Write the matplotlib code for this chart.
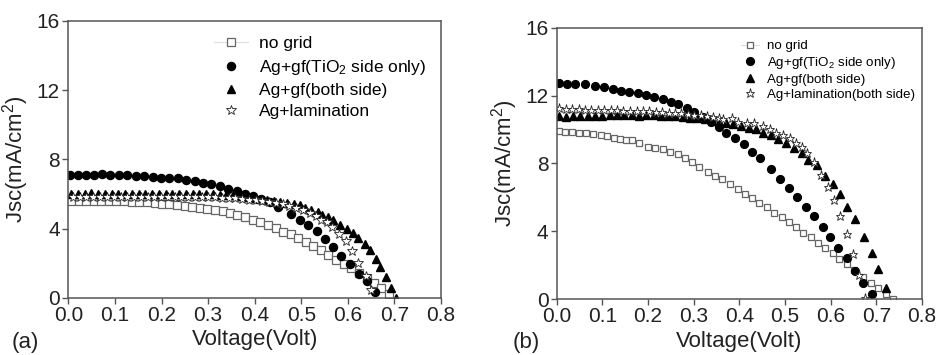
import matplotlib
matplotlib.use("Agg")
from matplotlib import pyplot as plt

plt.rcParams['font.family'] = ['Liberation Sans', 'DejaVu Sans']
plt.rcParams['mathtext.fontset'] = 'custom'
plt.rcParams['mathtext.rm'] = 'Liberation Sans'
plt.rcParams['mathtext.default'] = 'regular'

# ---- panel (a) ----
a_sq_v = [0.006, 0.022, 0.038, 0.055, 0.071, 0.087, 0.103, 0.120, 0.136, 0.152, 0.168, 0.185, 0.201, 0.217, 0.233,
          0.250, 0.266, 0.282, 0.298, 0.315, 0.331, 0.347, 0.363, 0.380, 0.396, 0.412, 0.428, 0.445, 0.461, 0.477,
          0.493, 0.510, 0.526, 0.542, 0.558, 0.575, 0.591, 0.607, 0.623, 0.640, 0.656, 0.672, 0.688]
a_sq_j = [5.62, 5.62, 5.62, 5.62, 5.62, 5.61, 5.61, 5.60, 5.57, 5.55, 5.52, 5.48, 5.45, 5.42, 5.38,
          5.33, 5.28, 5.22, 5.15, 5.08, 5.00, 4.92, 4.82, 4.66, 4.52, 4.37, 4.24, 4.05, 3.84, 3.68,
          3.45, 3.25, 3.00, 2.75, 2.50, 2.22, 1.95, 1.72, 1.44, 1.14, 0.84, 0.56, 0.25]

a_ci_v = [0.004, 0.020, 0.037, 0.055, 0.073, 0.090, 0.109, 0.126, 0.145, 0.163, 0.181, 0.199, 0.217, 0.235, 0.253,
          0.271, 0.289, 0.307, 0.325, 0.343, 0.361, 0.379, 0.397, 0.414, 0.432, 0.450, 0.478, 0.497, 0.514, 0.533,
          0.551, 0.568, 0.585, 0.605, 0.623, 0.640, 0.658]
a_ci_j = [7.13, 7.13, 7.13, 7.12, 7.18, 7.13, 7.13, 7.10, 7.05, 7.03, 7.00, 6.95, 6.93, 6.91, 6.80,
          6.78, 6.66, 6.57, 6.45, 6.32, 6.18, 6.03, 5.89, 5.74, 5.52, 5.28, 4.87, 4.53, 4.24, 3.85,
          3.39, 2.95, 2.45, 1.98, 1.41, 1.00, 0.33]

a_tr_v = [0.006, 0.020, 0.035, 0.049, 0.064, 0.078, 0.093, 0.107, 0.122, 0.136, 0.151, 0.165, 0.180, 0.194, 0.209,
          0.223, 0.238, 0.252, 0.267, 0.281, 0.296, 0.310, 0.325, 0.339, 0.354, 0.368, 0.383, 0.397, 0.412, 0.426,
          0.441, 0.455, 0.470, 0.484, 0.497, 0.509, 0.521, 0.535, 0.545, 0.558, 0.569, 0.584, 0.599, 0.611, 0.622,
          0.636, 0.647, 0.660, 0.670, 0.681, 0.693, 0.704]
a_tr_j = [5.98, 6.02, 6.00, 6.04, 6.00, 6.02, 5.98, 6.03, 6.00, 6.02, 6.00, 6.01, 5.99, 6.03, 6.00,
          6.02, 5.99, 6.02, 6.00, 6.01, 5.99, 6.00, 5.97, 5.95, 5.92, 5.88, 5.84, 5.80, 5.74, 5.68,
          5.62, 5.56, 5.48, 5.42, 5.35, 5.20, 5.07, 4.96, 4.82, 4.66, 4.49, 4.24, 4.01, 3.76, 3.49,
          3.10, 2.76, 2.27, 1.78, 1.21, 0.60, 0.02]

a_st_v = [0.010, 0.025, 0.039, 0.054, 0.068, 0.083, 0.097, 0.112, 0.126, 0.141, 0.155, 0.170, 0.184, 0.199, 0.213,
          0.228, 0.242, 0.257, 0.271, 0.286, 0.300, 0.315, 0.329, 0.344, 0.358, 0.373, 0.387, 0.402, 0.416, 0.431,
          0.445, 0.460, 0.474, 0.489, 0.503, 0.518, 0.532, 0.543, 0.555, 0.566, 0.582, 0.596, 0.609, 0.622, 0.638,
          0.649]
a_st_j = [5.85, 5.86, 5.84, 5.86, 5.85, 5.84, 5.86, 5.85, 5.85, 5.84, 5.86, 5.85, 5.84, 5.85, 5.86,
          5.85, 5.84, 5.85, 5.85, 5.84, 5.85, 5.83, 5.80, 5.78, 5.75, 5.72, 5.68, 5.64, 5.60, 5.55,
          5.48, 5.40, 5.30, 5.20, 5.08, 4.92, 4.72, 4.53, 4.40, 4.10, 3.72, 3.29, 2.71, 2.04, 1.25,
          0.48]

# ---- panel (b) ----
b_sq_v = [0.004, 0.019, 0.034, 0.048, 0.064, 0.080, 0.096, 0.110, 0.125, 0.139, 0.152, 0.165, 0.180, 0.199, 0.216,
          0.232, 0.249, 0.265, 0.280, 0.296, 0.312, 0.331, 0.347, 0.363, 0.380, 0.396, 0.412, 0.428, 0.444, 0.460,
          0.476, 0.493, 0.509, 0.524, 0.540, 0.556, 0.572, 0.588, 0.604, 0.619, 0.635, 0.651, 0.671, 0.688, 0.704,
          0.721, 0.737]
b_sq_j = [9.93, 9.87, 9.83, 9.81, 9.77, 9.73, 9.69, 9.61, 9.51, 9.42, 9.38, 9.38, 9.22, 8.98, 8.89,
          8.83, 8.65, 8.53, 8.33, 8.10, 7.80, 7.49, 7.27, 7.06, 6.77, 6.47, 6.21, 5.97, 5.67, 5.40,
          5.09, 4.83, 4.54, 4.23, 3.91, 3.64, 3.28, 2.99, 2.70, 2.34, 2.06, 1.71, 1.32, 0.96, 0.63,
          0.29, 0.0]

b_ci_v = [0.004, 0.022, 0.040, 0.062, 0.084, 0.104, 0.124, 0.141, 0.159, 0.177, 0.196, 0.212, 0.232, 0.250, 0.266,
          0.285, 0.301, 0.320, 0.338, 0.356, 0.371, 0.390, 0.409, 0.427, 0.445, 0.469, 0.490, 0.509, 0.527, 0.545,
          0.564, 0.582, 0.599, 0.617, 0.635, 0.653, 0.671, 0.690]
b_ci_j = [12.72, 12.68, 12.68, 12.68, 12.56, 12.48, 12.38, 12.28, 12.22, 12.13, 12.03, 11.93, 11.79, 11.63, 11.50,
          11.25, 11.01, 10.75, 10.46, 10.16, 9.81, 9.47, 9.12, 8.69, 8.30, 7.65, 7.08, 6.56, 6.00, 5.45,
          4.88, 4.27, 3.64, 3.03, 2.40, 1.67, 0.96, 0.28]

b_tr_v = [0.004, 0.020, 0.036, 0.052, 0.068, 0.084, 0.100, 0.116, 0.132, 0.148, 0.164, 0.180, 0.196, 0.212, 0.228,
          0.244, 0.260, 0.276, 0.292, 0.308, 0.324, 0.340, 0.356, 0.371, 0.387, 0.403, 0.420, 0.436, 0.452, 0.469,
          0.485, 0.502, 0.520, 0.537, 0.551, 0.569, 0.588, 0.606, 0.620, 0.635, 0.653, 0.673, 0.690, 0.704, 0.721]
b_tr_j = [10.80, 10.75, 10.78, 10.82, 10.80, 10.80, 10.78, 10.85, 10.87, 10.87, 10.85, 10.82, 10.85, 10.85, 10.82,
          10.78, 10.78, 10.72, 10.70, 10.65, 10.60, 10.52, 10.45, 10.36, 10.32, 10.20, 10.07, 10.01, 9.81, 9.67,
          9.42, 9.22, 8.89, 8.59, 8.20, 7.90, 7.25, 6.76, 6.17, 5.45, 4.72, 3.67, 2.73, 1.75, 0.63]

b_st_v = [0.006, 0.020, 0.034, 0.048, 0.062, 0.076, 0.090, 0.104, 0.118, 0.132, 0.146, 0.160, 0.175, 0.189, 0.203,
          0.217, 0.231, 0.245, 0.259, 0.273, 0.287, 0.301, 0.315, 0.329, 0.343, 0.355, 0.365, 0.383, 0.398, 0.416,
          0.431, 0.452, 0.467, 0.481, 0.496, 0.511, 0.524, 0.537, 0.549, 0.564, 0.579, 0.593, 0.607, 0.620, 0.635,
          0.648, 0.661, 0.675]
b_st_j = [11.24, 11.22, 11.20, 11.18, 11.17, 11.16, 11.15, 11.14, 11.13, 11.12, 11.11, 11.10, 11.10, 11.08, 11.06,
          11.04, 11.02, 11.00, 10.98, 10.95, 10.90, 10.88, 10.85, 10.80, 10.75, 10.70, 10.61, 10.65, 10.46, 10.40,
          10.36, 10.20, 10.01, 9.81, 9.67, 9.47, 9.22, 8.98, 8.59, 8.10, 7.31, 6.62, 5.84, 4.89, 3.83,
          2.65, 1.42, 0.06]

a_labels = ["no grid", "Ag+gf(TiO$_2$ side only)", "Ag+gf(both side)", "Ag+lamination"]
b_labels = ["no grid", "Ag+gf(TiO$_2$ side only)", "Ag+gf(both side)", "Ag+lamination(both side)"]
x_ticks = [0.0, 0.1, 0.2, 0.3, 0.4, 0.5, 0.6, 0.7, 0.8]
y_ticks = [0, 4, 8, 12, 16]

fig = plt.figure(figsize=(9.36, 3.55), dpi=100)
ax_a = fig.add_axes([0.0730, 0.1606, 0.3982, 0.7803])
ax_b = fig.add_axes([0.5948, 0.1577, 0.3903, 0.7642])

spine_c = '#555555'
text_c = '#222222'


def draw(ax, data, labels, ms, leg_fs, leg_anchor, handlelen, labelsp):
    (sv, sj), (cv, cj), (tv, tj), (stv, stj) = data
    ax.plot(sv, sj, ls='-', lw=0.8, color='#dddddd', marker='s', ms=ms, mfc='white',
            mec='#666666', mew=0.9, label=labels[0])
    ax.plot(cv, cj, ls='none', marker='o', ms=ms + 0.6, color='black', label=labels[1])
    ax.plot(tv, tj, ls='none', marker='^', ms=ms + 0.6, color='black', label=labels[2])
    ax.plot(stv, stj, ls='none', marker='*', ms=ms + 1.8, mfc='white', mec='#222222',
            mew=0.6, label=labels[3])
    ax.set_xlim(0, 0.8)
    ax.set_ylim(0, 16)
    ax.set_xticks(x_ticks)
    ax.set_xticklabels(["%.1f" % v for v in x_ticks])
    ax.set_yticks(y_ticks)
    ax.tick_params(direction='out', length=4, width=1.0, color=spine_c, labelsize=15,
                   labelcolor=text_c, pad=2)
    for s in ax.spines.values():
        s.set_color(spine_c)
        s.set_linewidth(1.1)
    ax.set_xlabel("Voltage(Volt)", fontsize=16, color=text_c, labelpad=3)
    ax.set_ylabel("Jsc(mA/cm$^2$)", fontsize=16, color=text_c, labelpad=4)
    ax.legend(loc='upper left', bbox_to_anchor=leg_anchor, frameon=False, fontsize=leg_fs,
              handlelength=handlelen, handletextpad=0.6, labelspacing=labelsp,
              borderaxespad=0, borderpad=0)


draw(ax_a, [(a_sq_v, a_sq_j), (a_ci_v, a_ci_j), (a_tr_v, a_tr_j), (a_st_v, a_st_j)],
     a_labels, 5.2, 12.5, (0.39, 0.945), 2.0, 0.36)
draw(ax_b, [(b_sq_v, b_sq_j), (b_ci_v, b_ci_j), (b_tr_v, b_tr_j), (b_st_v, b_st_j)],
     b_labels, 5.0, 9.6, (0.505, 0.955), 1.3, 0.2)

fig.text(0.012, 0.02, "(a)", fontsize=16, color=text_c)
fig.text(0.548, 0.02, "(b)", fontsize=16, color=text_c)

fig.savefig("out.png", dpi=100)
